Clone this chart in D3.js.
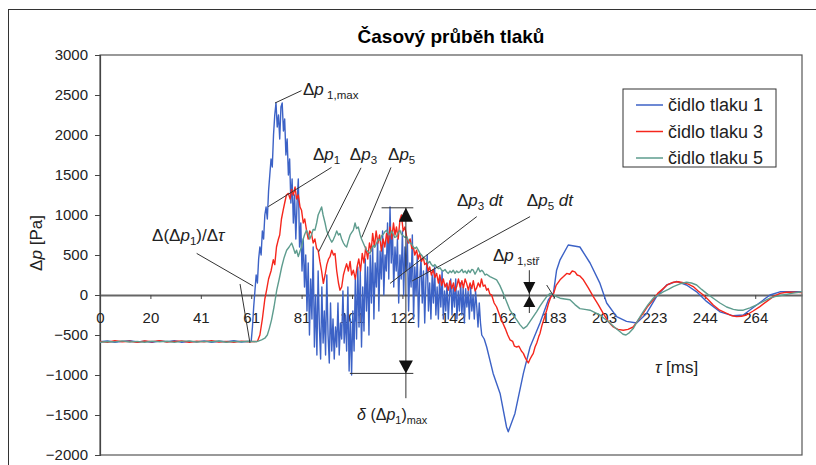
<!DOCTYPE html>
<html>
<head>
<meta charset="utf-8">
<script src="https://cdn.jsdelivr.net/npm/d3@7/dist/d3.min.js"></script>
<style>
  body { margin: 0; background: #fff; }
  svg { display: block; font-family: "Liberation Sans", Arial, sans-serif; }
</style>
</head>
<body>
<div id="chart"></div>
<script>
// x axis is a category axis in the original, labels every ~20.33 ms
const xTickVals = [0, 20.33, 40.67, 61, 81.33, 101.67, 122, 142.33, 162.67, 183, 203.33, 223.67, 244, 264.33];
const xTickLabels = ["0", "20", "41", "61", "81", "101", "122", "142", "162", "183", "203", "223", "244", "264"];
const yTickVals = [-2000, -1500, -1000, -500, 0, 500, 1000, 1500, 2000, 2500, 3000];
const seriesNames = ["čidlo tlaku 1", "čidlo tlaku 3", "čidlo tlaku 5"];

// [time ms, pressure Pa]
const sensor1 = [
  [0,-585],[3,-575],[6,-590],[9,-580],[12,-570],[15,-588],[18,-578],[21,-592],[24,-575],[27,-583],[30,-570],
  [33,-590],[36,-580],[39,-586],[42,-574],[45,-590],[48,-578],[51,-584],[54,-572],[57,-588],[60,-580],
  [61,-580],[61.5,-400],[62,-150],[62.5,50],[63,250],[63.5,150],[64,450],[64.5,600],[65,500],[65.5,800],
  [66,700],[66.5,1000],[67,1100],[67.5,950],[68,1300],[68.5,1500],[69,1700],[69.5,1600],[70,2000],[70.5,2250],
  [71,2400],[71.5,2100],[72,2250],[72.5,1950],[73,2350],[73.5,2400],[74,2050],[74.5,2200],[75,1750],[75.5,1950],
  [76,1500],[76.5,1700],[77,1150],[77.5,1450],[78,900],[78.5,1250],[79,700],[79.5,1150],[80,1450],[80.5,600],
  [81,900],[81.5,300],[82,700],[82.5,100],[83,500],[83.5,-200],[84,400],[84.5,-500],[85,200],[85.5,-300],
  [86,600],[86.5,-650],[87,0],[87.5,-750],[88,300],[88.5,-400],[89,-800],[89.5,100],[90,-600],[90.5,-200],
  [91,-750],[91.5,250],[92,-500],[92.5,-850],[93,-100],[93.5,-700],[94,-300],[94.5,-800],[95,-400],[95.5,-650],
  [96,-100],[96.5,-750],[97,-350],[97.5,-550],[98,50],[98.5,-600],[99,-250],[99.5,-700],[100,100],[100.5,-950],
  [101,-300],[101.5,-1000],[102,-200],[102.5,-700],[103,200],[103.5,-550],[104,350],[104.5,-400],[105,300],[105.5,-650],
  [106,100],[106.5,-450],[107,450],[107.5,-200],[108,350],[108.5,-500],[109,500],[109.5,-100],[110,600],[110.5,-300],
  [111,400],[111.5,100],[112,700],[112.5,-200],[113,550],[113.5,200],[114,800],[114.5,0],[115,500],[115.5,300],
  [116,900],[116.5,200],[117,1100],[117.5,400],[118,800],[118.5,100],[119,600],[119.5,300],[120,700],[120.5,-100],
  [121,500],[121.5,200],[122,800],[122.5,0],[123,600],[123.5,300],[124,700],[124.5,-200],[125,400],[125.5,100],
  [126,750],[126.5,-300],[127,350],[127.5,0],[128,500],[128.5,-400],[129,200],[129.5,450],[130,-100],[130.5,300],
  [131,-350],[131.5,200],[132,500],[132.5,-200],[133,150],[133.5,-300],[134,250],[134.5,-100],[135,350],[135.5,-250],
  [136,100],[136.5,-300],[137,200],[137.5,-150],[138,300],[138.5,-300],[139,50],[139.5,-200],[140,150],[140.5,-300],
  [141,0],[141.5,200],[142,-250],[142.5,100],[143,-150],[143.5,200],[144,-300],[144.5,50],[145,-200],[145.5,150],
  [146,-250],[146.5,100],[147,-350],[147.5,80],[148,-150],[148.5,50],[149,-300],[149.5,100],[150,-200],[150.5,0],
  [151,-300],[151.5,50],[152,-150],[152.5,-400],[153,-100],[153.5,-350],[154,-500],[155,-550],[156,-650],
  [158.6,-980],[161.4,-1230],[164,-1650],[164.7,-1710],[167.4,-1480],[170.8,-980],[173.5,-650],[177.5,-350],
  [180.9,-60],[182.9,20],[184.2,310],[185.6,440],[188.9,625],[193.6,600],[197.7,400],[201.7,145],[204.4,-100],
  [208.4,-270],[212.4,-330],[216.5,-350],[220.5,-230],[224.5,-20],[228.6,125],[232.6,170],[236.6,125],[240.7,40],
  [244.7,-80],[250.1,-210],[255.5,-260],[259.5,-250],[264.9,-125],[270.3,0],[274.3,40],[283.2,40]
];

const sensor3 = [
  [0,-580],[3,-590],[6,-572],[9,-585],[12,-578],[15,-592],[18,-575],[21,-585],[24,-570],[27,-588],[30,-580],
  [33,-575],[36,-590],[39,-578],[42,-585],[45,-572],[48,-588],[51,-580],[54,-590],[57,-576],[60,-585],[63.5,-580],
  [64.5,-500],[65.5,-300],[66.5,-50],[67.2,60],[68,200],[69,300],[69.9,440],[70.5,380],[71.2,600],[71.9,690],
  [72.5,750],[73.2,950],[73.9,1060],[74.5,1150],[75.2,1250],[76,1270],[76.7,1200],[77.3,1320],[78,1250],[78.7,1350],
  [79.3,1200],[80,1250],[80.7,1100],[81.3,1060],[82,900],[82.6,950],[83.3,810],[84,700],[84.6,800],[85.3,770],
  [86,650],[86.7,700],[87.4,580],[88,560],[88.7,420],[89.4,300],[90.1,145],[90.8,250],[91.5,380],[92.2,450],
  [92.8,480],[93.5,560],[94.2,500],[94.8,520],[95.5,300],[96.2,150],[96.8,60],[97.5,100],[98.2,250],[98.8,320],
  [99.5,390],[100.2,300],[100.9,420],[101.5,250],[102.2,310],[103,200],[103.7,350],[104.4,450],[105.1,300],[105.8,520],
  [106.5,400],[107.2,600],[108,450],[108.7,650],[109.4,550],[110,770],[110.7,600],[111.4,800],[112.1,650],[112.8,750],
  [113.5,550],[114.2,700],[114.9,600],[115.6,770],[116.3,650],[117,850],[117.7,700],[118.4,900],[119,750],[119.6,850],
  [120.3,700],[121,940],[121.6,1000],[122.3,800],[123,850],[123.7,730],[124.4,650],[125.1,700],[125.8,580],[126.4,600],
  [127,500],[127.7,560],[128.4,450],[129,520],[129.7,420],[130.4,470],[131,380],[131.7,400],[132.4,300],[133,350],
  [133.7,250],[134.4,320],[135.1,220],[135.8,270],[136.5,150],[137.1,250],[137.8,120],[138.5,200],[139.2,100],[139.8,145],
  [140.5,60],[141.2,180],[141.9,80],[142.6,150],[143.2,50],[143.9,105],[144.6,200],[145.3,100],[146,180],[146.6,90],
  [147.3,200],[147.9,145],[148.6,60],[149.3,150],[150,80],[150.6,180],[151.3,50],[151.9,85],[152.6,150],[153.3,100],
  [153.9,200],[154.6,110],[155.3,125],[156,60],[156.6,80],[157.3,10],[158,0],[159,-100],[160,-150],[161.4,-270],
  [162.5,-350],[163.5,-420],[164.5,-500],[165.4,-560],[166.5,-580],[167.2,-640],[168.1,-650],[169,-640],[170,-700],
  [170.8,-730],[171.5,-780],[172.2,-820],[172.8,-850],[173.5,-800],[174.2,-760],[174.8,-730],[175.5,-650],[176.2,-600],
  [177,-520],[177.5,-480],[178.3,-380],[179.2,-290],[180.2,-190],[181,-100],[181.8,-30],[182.9,10],[184,120],
  [185.6,190],[187,230],[188.3,270],[189.5,260],[190.5,300],[191.6,290],[192.5,250],[193.5,240],[195,190],[197,90],
  [199,-20],[201,-120],[203,-230],[205,-330],[207.1,-400],[209,-430],[211.1,-440],[213,-430],[215.1,-400],[217,-320],
  [219.1,-230],[221,-140],[223.2,-60],[225,20],[227.2,80],[229,130],[231.3,160],[233.3,165],[235.3,155],[237.3,135],
  [239.3,105],[241.3,50],[243.4,0],[245.4,-60],[247.4,-125],[250,-190],[252.8,-230],[255,-260],[256.8,-270],
  [258.8,-265],[260.8,-250],[263.5,-200],[266.2,-145],[269,-80],[271.6,-20],[274.3,20],[277,35],[280,35],[283.2,30]
];

const sensor5 = [
  [0,-590],[3,-582],[6,-586],[9,-574],[12,-588],[15,-580],[18,-590],[21,-576],[24,-586],[27,-578],[30,-592],
  [33,-580],[36,-574],[39,-588],[42,-580],[45,-585],[48,-575],[51,-590],[54,-580],[57,-584],[60,-578],[63,-585],
  [65.2,-560],[66.5,-540],[67.5,-500],[68.3,-420],[69.2,-310],[70.2,-150],[71.3,60],[72.3,200],[73.3,350],[74.3,470],
  [75.3,560],[76.3,600],[77.3,650],[78,590],[78.7,520],[79.3,560],[80,480],[80.7,550],[81.3,600],[82,700],
  [82.6,760],[83.3,810],[84,760],[84.6,700],[85.3,750],[86,820],[86.7,810],[87.4,900],[88,1000],[88.7,1050],
  [89.4,1100],[90,1000],[90.8,900],[91.4,810],[92.1,750],[92.8,700],[93.5,660],[94.1,690],[94.8,740],[95.5,800],
  [96.2,750],[96.8,770],[97.5,700],[98.2,650],[98.8,620],[99.5,600],[100.2,680],[100.9,750],[101.5,780],[102.2,810],
  [102.9,900],[103.5,830],[104.2,850],[104.9,760],[105.5,700],[106.2,650],[106.9,600],[107.5,560],[108.2,540],[108.9,520],
  [109.6,580],[110.3,620],[110.9,600],[111.6,650],[112.3,700],[113,680],[113.6,740],[114.3,760],[114.9,790],[115.6,810],
  [116.3,770],[117,750],[117.6,800],[118.3,760],[118.9,720],[119.6,730],[120.3,780],[121,810],[121.6,760],[122.3,740],
  [123,720],[123.7,730],[124.4,680],[125,650],[125.7,640],[126.4,600],[127.1,580],[127.7,600],[128.4,560],[129.1,520],
  [129.7,500],[130.4,470],[131,460],[131.7,440],[132.4,400],[133,420],[133.7,380],[134.4,360],[135.1,380],[135.8,350],
  [136.5,330],[137.2,340],[137.8,310],[138.5,300],[139.2,320],[139.8,290],[140.5,270],[141.2,300],[141.8,280],[142.5,310],
  [143.2,270],[143.9,300],[144.5,280],[145.2,290],[146,320],[146.6,280],[147.3,300],[148,270],[148.6,310],[149.3,280],
  [150,320],[150.6,310],[151.3,260],[152,300],[152.6,340],[153.3,290],[154,310],[154.6,290],[155.3,250],[156,260],
  [157.3,230],[158.6,210],[160,190],[161.3,120],[162.7,20],[164,-80],[165.4,-190],[166.7,-250],[168.1,-310],[169.4,-370],
  [170.8,-420],[172.2,-390],[173.5,-330],[174.8,-270],[176.1,-210],[177.5,-140],[178.8,-80],[180.2,-20],[181.5,20],
  [182.9,0],[184.2,-20],[185.6,-40],[187.5,-50],[189.6,-60],[191.6,-120],[193.6,-170],[195.6,-180],[197.7,-190],
  [199.7,-220],[201.7,-250],[203.7,-300],[205.7,-350],[207.8,-410],[209.8,-460],[211,-490],[212.2,-500],[213.6,-470],
  [215.1,-420],[217.1,-310],[219.1,-210],[221.1,-120],[223.2,-40],[225.2,0],[227.2,40],[229.3,70],[231.3,105],[234,140],
  [236.6,160],[238.6,150],[240.7,125],[242.7,70],[244.7,20],[247.4,-40],[250.1,-100],[252.8,-150],[255.5,-180],
  [257.5,-190],[259.5,-190],[262.2,-160],[264.9,-125],[267.6,-80],[270.3,-40],[273,-15],[275.6,0],[279,20],[283.2,40]
];

const colors = ["#3c62c6", "#f5261c", "#5e9c8e"];

const W = 816, H = 465;
const plot = { left: 100, right: 802, top: 55, bottom: 455 };

const svg = d3.select("#chart").append("svg")
  .attr("width", W)
  .attr("height", H);

// outer chart frame
svg.append("rect")
  .attr("x", 8.5).attr("y", 9.5)
  .attr("width", 830).attr("height", 470)
  .attr("fill", "#fff").attr("stroke", "#333").attr("stroke-width", 1);

const x = d3.scaleLinear().domain([0, 283.2]).range([plot.left, plot.right]);
const y = d3.scaleLinear().domain([-2000, 3000]).range([plot.bottom, plot.top]);

// plot area border
svg.append("rect")
  .attr("x", plot.left).attr("y", plot.top)
  .attr("width", plot.right - plot.left).attr("height", plot.bottom - plot.top)
  .attr("fill", "none").attr("stroke", "#555").attr("stroke-width", 1.2);

svg.append("text")
  .attr("x", (plot.left + plot.right) / 2).attr("y", 43)
  .attr("text-anchor", "middle")
  .attr("font-size", 19).attr("font-weight", "bold")
  .text("Časový průběh tlaků");

// y axis
const yAxis = d3.axisLeft(y).tickValues(yTickVals).tickFormat(d3.format("d")).tickSize(5).tickPadding(7);
const gy = svg.append("g").attr("transform", `translate(${plot.left},0)`).call(yAxis);
gy.select(".domain").attr("stroke", "#444").attr("stroke-width", 1.2);
gy.selectAll(".tick line").attr("stroke", "#444");
gy.selectAll("text").attr("font-size", 15).attr("fill", "#222")
  .attr("font-family", "Liberation Sans, Arial, sans-serif");

// x axis sits on zero
const xAxis = d3.axisBottom(x).tickValues(xTickVals)
  .tickFormat((d, i) => xTickLabels[i]).tickSize(4).tickPadding(13).tickSizeOuter(0);
const gx = svg.append("g").attr("transform", `translate(0,${y(0)})`).call(xAxis);
gx.select(".domain").attr("stroke", "#666").attr("stroke-width", 1.8);
gx.selectAll(".tick line").attr("stroke", "#444");
gx.selectAll("text").attr("font-size", 15).attr("fill", "#222")
  .attr("font-family", "Liberation Sans, Arial, sans-serif");

// series
const line = d3.line().x(d => x(d[0])).y(d => y(d[1]));
[sensor1, sensor3, sensor5].forEach((s, i) => {
  svg.append("path")
    .datum(s)
    .attr("d", line)
    .attr("fill", "none")
    .attr("stroke", colors[i])
    .attr("stroke-width", 1.4)
    .attr("stroke-linejoin", "round");
});

// rich text helper: segments of {t, it, sub}
function richText(g, px, py, size, segs) {
  const t = g.append("text").attr("x", px).attr("y", py).attr("font-size", size).attr("fill", "#222");
  let down = false;
  segs.forEach(s => {
    const ts = t.append("tspan").text(s.t);
    if (s.it) ts.attr("font-style", "italic");
    if (s.sub && !down) { ts.attr("dy", size * 0.25).attr("font-size", size * 0.68); down = true; }
    else if (s.sub) ts.attr("font-size", size * 0.68);
    else if (down) { ts.attr("dy", -size * 0.25); down = false; }
  });
  return t;
}

const ann = svg.append("g");
const leader = (t1, v1, t2, v2, w) => ann.append("line")
  .attr("x1", x(t1)).attr("y1", y(v1)).attr("x2", x(t2)).attr("y2", y(v2))
  .attr("stroke", "#333").attr("stroke-width", w || 1);

// Δp1,max
leader(70.6, 2400, 81.3, 2555);
richText(ann, x(81.9), y(2500), 17, [{t: "Δ"}, {t: "p", it: true}, {t: " 1,max", sub: true}]);

// Δp1, Δp3, Δp5
leader(93.4, 1595, 67.9, 1105);
leader(105.3, 1590, 88.2, 540);
leader(117.4, 1595, 105.6, 720);
richText(ann, x(85.9), y(1690), 17, [{t: "Δ"}, {t: "p", it: true}, {t: "1", sub: true}]);
richText(ann, x(100.8), y(1690), 17, [{t: "Δ"}, {t: "p", it: true}, {t: "3", sub: true}]);
richText(ann, x(116.2), y(1690), 17, [{t: "Δ"}, {t: "p", it: true}, {t: "5", sub: true}]);

// Δ(Δp1)/Δτ with tangent
leader(39, 520, 61.8, 112);
leader(56.5, 137, 60.5, -600);
richText(ann, x(21), y(675), 17, [{t: "Δ(Δ"}, {t: "p", it: true}, {t: "1", sub: true}, {t: ")/Δ"}, {t: "τ", it: true}]);

// δ(Δp1)max span
const arrT = 123.4;
leader(arrT, 1090, arrT, -1290);
leader(113.6, 1090, 126.4, 1090);
leader(100.8, -980, 126.4, -980);
ann.append("path")
  .attr("d", `M${x(arrT)},${y(1090)} l-7,14 l14,0 Z`).attr("fill", "#111");
ann.append("path")
  .attr("d", `M${x(arrT)},${y(-980)} l-7,-13 l14,0 Z`).attr("fill", "#111");
richText(ann, x(103.7), y(-1560), 16, [{t: "δ", it: true}, {t: " (Δ"}, {t: "p", it: true}, {t: "1", sub: true}, {t: ")"}, {t: "max", sub: true}]);

// Δp3 dt, Δp5 dt
leader(152, 980, 117, 145);
leader(173.5, 980, 125.9, 175);
richText(ann, x(144), y(1110), 17, [{t: "Δ"}, {t: "p", it: true}, {t: "3", sub: true}, {t: " dt", it: true}]);
richText(ann, x(172.2), y(1110), 17, [{t: "Δ"}, {t: "p", it: true}, {t: "5", sub: true}, {t: " dt", it: true}]);

// Δp1,stř
const stT = 173.2;
leader(stT, 310, stT, -225);
ann.append("path").attr("d", `M${x(stT)},${y(0) - 1} l-6,-12 l12,0 Z`).attr("fill", "#111");
ann.append("path").attr("d", `M${x(stT)},${y(0) + 1} l-6,11 l12,0 Z`).attr("fill", "#111");
richText(ann, x(158.5), y(425), 17, [{t: "Δ"}, {t: "p", it: true}, {t: " 1,stř", sub: true}]);
leader(180.2, 125, 183.5, -40);

// τ [ms]
richText(ann, x(223.9), y(-975), 17, [{t: "τ", it: true}, {t: " [ms]"}]);

// y axis title
const yl = svg.append("text")
  .attr("transform", `translate(42,${243}) rotate(-90)`)
  .attr("text-anchor", "middle").attr("font-size", 17).attr("fill", "#222");
yl.append("tspan").text("Δ");
yl.append("tspan").attr("font-style", "italic").text("p");
yl.append("tspan").text(" [Pa]");

// legend
const lg = svg.append("g").attr("transform", "translate(623,89)");
lg.append("rect").attr("width", 153).attr("height", 78)
  .attr("fill", "#fff").attr("stroke", "#333").attr("stroke-width", 1);
seriesNames.forEach((n, i) => {
  const ly = 16 + i * 26.5;
  lg.append("line").attr("x1", 13).attr("x2", 40).attr("y1", ly).attr("y2", ly)
    .attr("stroke", colors[i]).attr("stroke-width", 1.5);
  lg.append("text").attr("x", 45).attr("y", ly).attr("dy", "0.35em")
    .attr("font-size", 18).attr("fill", "#222").text(n);
});
</script>
</body>
</html>
